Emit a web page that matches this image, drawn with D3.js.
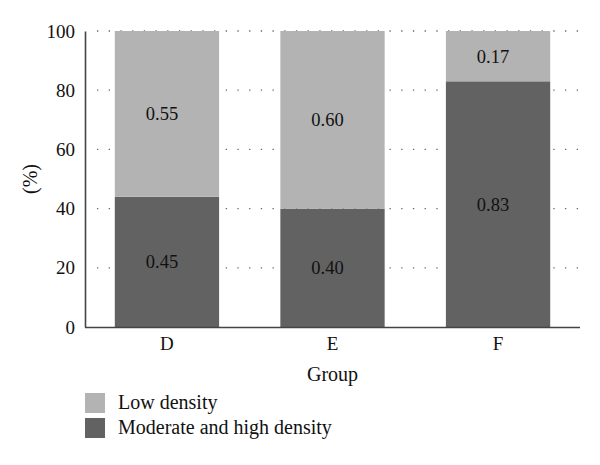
<!DOCTYPE html>
<html><head><meta charset="utf-8">
<script src="https://cdn.jsdelivr.net/npm/d3@7"></script>
<style>body{margin:0;background:#fff;} text{font-family:"Liberation Serif","Times New Roman",serif;fill:#111;}</style>
</head><body>
<svg id="c" width="600" height="465"></svg>
<script>
const groups = ["D", "E", "F"];
const moderateHigh = [44, 40, 83];
const low = [56, 60, 17];
const moderateLabels = ["0.45", "0.40", "0.83"];
const lowLabels = ["0.55", "0.60", "0.17"];
const yTicks = [0, 20, 40, 60, 80, 100];
const seriesNames = ["Low density", "Moderate and high density"];
const colors = {low: "#b3b3b3", mod: "#626262"};

const svg = d3.select("#c");
const L = 85, R = 580, T = 31, B = 327;
const x = d3.scaleBand().domain(groups).range([L, R]).paddingInner(0.37).paddingOuter(0.18);
const y = d3.scaleLinear().domain([0, 100]).range([B, T]);

// gridlines
svg.append("g").selectAll("line").data(yTicks.filter(d => d > 0)).join("line")
  .attr("x1", L + 12).attr("x2", R).attr("y1", d => y(d)).attr("y2", d => y(d))
  .attr("stroke", "#666").attr("stroke-width", 1.3).attr("stroke-dasharray", "1.3 10.4");

// bars
const data = groups.map((g, i) => ({g, m: moderateHigh[i], l: low[i], ml: moderateLabels[i], ll: lowLabels[i]}));
const bars = svg.append("g");
bars.selectAll(".mod").data(data).join("rect")
  .attr("x", d => x(d.g)).attr("width", x.bandwidth())
  .attr("y", d => y(d.m)).attr("height", d => y(0) - y(d.m)).attr("fill", colors.mod);
bars.selectAll(".low").data(data).join("rect")
  .attr("x", d => x(d.g)).attr("width", x.bandwidth())
  .attr("y", d => y(d.m + d.l)).attr("height", d => y(d.m) - y(d.m + d.l)).attr("fill", colors.low);

// labels
const lab = svg.append("g").attr("font-size", 18.5).attr("text-anchor", "middle");
lab.selectAll(".lm").data(data).join("text")
  .attr("x", d => x(d.g) + x.bandwidth() / 2 - 5).attr("y", d => y(d.m / 2)).attr("dy", "0.35em").text(d => d.ml);
lab.selectAll(".ll").data(data).join("text")
  .attr("x", d => x(d.g) + x.bandwidth() / 2 - 5).attr("y", d => y(d.m + d.l / 2)).attr("dy", "0.35em").text(d => d.ll);

// axes
const yAxis = svg.append("g").attr("transform", `translate(${L},0)`)
  .call(d3.axisLeft(y).tickValues(yTicks).tickSize(0).tickPadding(10));
const xAxis = svg.append("g").attr("transform", `translate(0,${B})`)
  .call(d3.axisBottom(x).tickSize(0).tickPadding(10));
[yAxis, xAxis].forEach(a => {
  a.select(".domain").attr("stroke", "#444").attr("stroke-width", 1.6);
  a.selectAll("text").attr("font-size", 19).attr("fill", "#111");
});
xAxis.select(".domain").attr("d", `M${L},0.5H${R}`);

svg.append("text").attr("transform", `translate(37,${(T + B) / 2}) rotate(-90)`)
  .attr("text-anchor", "middle").attr("font-size", 20).text("(%)");
svg.append("text").attr("x", (L + R) / 2).attr("y", 381).attr("text-anchor", "middle")
  .attr("font-size", 20).text("Group");

// legend
const leg = svg.append("g");
[colors.low, colors.mod].forEach((c, i) => {
  leg.append("rect").attr("x", 85).attr("y", 393 + i * 25).attr("width", 20).attr("height", 20).attr("fill", c);
  leg.append("text").attr("x", 118).attr("y", 409 + i * 25).attr("font-size", 20).text(seriesNames[i]);
});
</script>
</body></html>
